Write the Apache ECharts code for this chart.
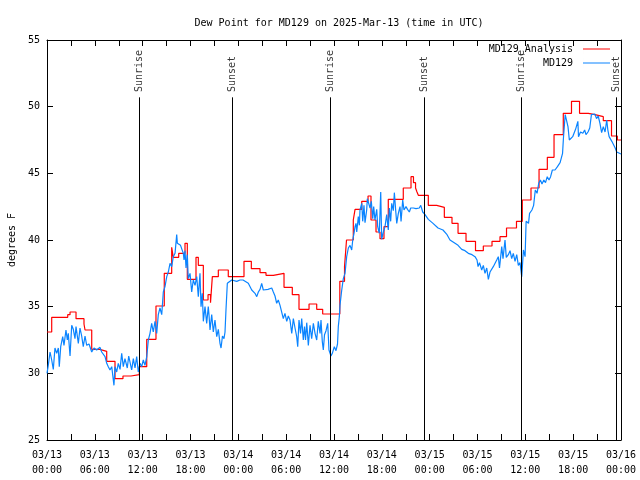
<!DOCTYPE html>
<html><head><meta charset="utf-8">
<script src="https://cdn.jsdelivr.net/npm/echarts@6/dist/echarts.min.js"></script>
<style>html,body{margin:0;padding:0;background:#fff}#c{width:640px;height:480px}</style>
</head><body><div id="c"></div>
<script>
const titleText = 'Dew Point for MD129 on 2025-Mar-13 (time in UTC)';
const yName = 'degrees F';
const xTickLabels = ['03/13\n00:00','03/13\n06:00','03/13\n12:00','03/13\n18:00','03/14\n00:00','03/14\n06:00','03/14\n12:00','03/14\n18:00','03/15\n00:00','03/15\n06:00','03/15\n12:00','03/15\n18:00','03/16\n00:00'];
const seriesNames = ['MD129_Analysis', 'MD129'];

// hours since 03/13 00:00 UTC
const redHours = [0,0.59,2.60,2.89,3.64,4.64,4.77,5.61,6.61,7.49,8.53,9.53,10.54,11.58,12.51,13.67,14.71,15.64,15.84,16.52,17.31,17.60,18.69,18.98,19.61,20.20,20.51,20.74,21.49,22.74,24.71,25.63,26.72,27.47,28.39,29.73,30.77,31.61,32.87,33.83,34.58,36.73,37.32,37.57,38.42,38.64,39.48,40.27,40.64,41.27,41.77,42.27,42.81,44.69,45.66,45.97,46.23,46.41,46.58,47.83,48.88,49.84,50.80,51.56,52.56,53.75,54.73,55.82,56.82,57.64,58.89,59.62,60.71,61.72,62.76,63.60,64.76,65.79,66.80,67.90,68.74,69.78,70.81,71.54,72];
const redValues = [33.1,34.2,34.4,34.6,34.1,33.7,33.25,31.8,31.65,30.9,29.6,29.8,29.9,30.5,32.55,35.05,37.5,39.45,38.7,39.0,39.75,37.05,38.7,38.1,35.5,35.9,35.3,37.25,37.75,37.25,38.4,37.85,37.55,37.35,37.5,36.45,35.9,34.8,35.2,34.8,34.45,36.9,38.0,40.0,41.5,42.3,42.9,43.3,41.5,40.6,40.1,41.0,43.05,43.9,44.75,44.3,43.9,43.6,43.35,42.6,42.45,41.7,41.25,40.5,39.9,39.2,39.55,39.9,40.25,40.9,41.4,43.0,43.9,45.3,46.2,47.9,49.5,50.4,49.5,49.4,49.25,48.95,47.8,47.5,47.5];

const blueHours = [0,0.16,0.38,0.59,0.79,1.00,1.22,1.42,1.54,1.72,1.97,2.13,2.38,2.55,2.67,2.89,3.10,3.30,3.51,3.64,3.93,4.14,4.35,4.55,4.77,4.98,5.27,5.61,5.90,6.23,6.65,6.86,7.28,7.49,7.69,7.90,8.12,8.40,8.53,8.74,8.94,9.16,9.37,9.57,9.78,10.07,10.25,10.41,10.62,10.83,11.04,11.25,11.45,11.67,11.88,12.08,12.29,12.51,12.71,12.92,13.13,13.33,13.55,13.76,13.96,14.17,14.39,14.59,14.80,15.02,15.22,15.43,15.64,15.84,16.06,16.27,16.35,16.60,16.75,16.90,17.10,17.19,17.31,17.44,17.60,17.72,17.94,18.15,18.35,18.57,18.78,18.98,19.19,19.32,19.48,19.61,19.82,20.03,20.23,20.32,20.45,20.66,20.86,21.07,21.29,21.49,21.70,21.83,22.01,22.20,22.33,22.45,22.62,22.87,23.17,23.80,24.21,24.59,24.84,25.25,25.46,25.68,25.88,26.09,26.31,26.51,26.72,26.93,27.13,27.35,27.72,28.19,28.39,28.60,28.81,29.01,29.23,29.44,29.64,29.85,30.07,30.27,30.48,30.70,30.90,31.11,31.32,31.45,31.61,31.80,31.95,32.15,32.30,32.43,32.58,32.78,32.99,33.20,33.41,33.62,33.83,34.03,34.25,34.37,34.53,34.66,34.81,35.00,35.21,35.37,35.62,35.79,36.04,36.25,36.44,36.54,36.67,36.75,36.97,37.17,37.38,37.59,37.80,38.01,38.22,38.35,38.51,38.64,38.76,38.85,39.05,39.18,39.26,39.48,39.60,39.76,39.89,40.10,40.18,40.43,40.52,40.68,40.86,40.98,41.14,41.36,41.48,41.68,41.86,41.98,42.19,42.40,42.61,42.81,42.94,43.11,43.24,43.44,43.57,43.74,43.87,44.07,44.28,44.41,44.62,44.78,45.03,45.22,45.45,45.62,45.95,46.29,46.70,46.88,47.13,47.42,47.83,48.42,49.05,49.67,50.18,50.55,51.18,51.56,52.02,52.43,52.85,53.31,53.69,53.94,54.07,54.25,54.53,54.73,54.94,55.16,55.36,55.57,55.78,55.98,56.20,56.41,56.61,56.76,57.04,57.20,57.45,57.61,57.87,58.08,58.29,58.49,58.71,58.92,59.12,59.33,59.55,59.76,59.97,60.10,60.40,60.53,60.83,61.04,61.25,61.47,61.68,61.89,62.09,62.32,62.53,62.75,62.97,63.17,63.39,63.72,64.03,64.36,64.67,64.79,65.00,65.22,65.35,65.52,65.73,65.94,66.16,66.30,66.59,66.67,66.92,67.22,67.44,67.61,67.86,68.08,68.29,68.50,68.72,68.93,69.14,69.36,69.57,69.78,70.00,70.21,70.35,70.51,70.85,71.04,71.27,71.46,71.70,72.00];
const blueValues = [30.0,30.6,31.6,31.0,30.3,31.9,31.5,31.9,30.5,32.0,32.75,32.1,33.25,32.5,33.0,31.3,33.6,33.3,32.6,33.5,32.25,33.4,32.8,32.0,32.8,32.1,32.2,31.6,31.9,31.75,31.95,31.6,31.25,30.75,30.5,30.25,30.5,29.1,30.5,30.1,30.75,30.3,31.5,30.5,31.1,30.4,31.3,31.25,30.25,31.1,30.4,31.25,30.1,30.75,30.5,31.0,30.6,31.25,32.5,33.0,33.75,33.1,33.9,33.0,34.4,34.9,34.4,36.1,36.5,37.25,37.6,38.25,38.0,38.75,39.0,40.4,39.75,39.9,39.6,39.75,39.0,38.5,39.2,37.9,38.9,37.1,37.5,36.1,37.0,36.6,37.25,35.75,37.5,35.0,36.0,33.9,35.0,33.75,35.0,34.4,33.25,34.4,33.1,34.0,32.75,33.3,32.25,31.9,32.8,32.6,33.1,34.75,36.75,36.9,37.0,36.9,37.0,37.0,37.05,36.75,36.6,36.25,36.4,36.0,35.75,36.1,36.3,36.75,36.25,36.35,36.3,36.4,36.1,35.8,35.25,35.5,35.1,35.0,34.1,34.5,33.9,34.3,34.0,33.0,34.1,33.4,32.75,32.0,34.0,33.0,34.1,32.5,33.5,32.5,33.8,32.1,33.6,32.6,33.75,33.0,32.5,33.9,33.0,34.0,32.4,31.75,32.9,33.2,33.75,31.75,31.3,31.5,32.0,31.7,32.2,33.5,34.25,35.1,36.25,37.1,37.5,38.75,39.4,39.6,39.25,40.0,40.5,41.0,41.25,40.6,41.75,41.1,42.25,42.75,41.4,42.6,41.3,42.25,43.1,43.25,42.4,42.9,41.6,42.5,41.5,42.3,41.0,40.5,43.6,40.05,40.6,41.0,41.9,40.75,42.4,41.4,42.75,42.2,43.55,42.2,41.25,42.0,42.5,41.4,43.0,42.25,42.5,42.3,42.1,42.4,42.4,42.35,42.4,42.6,42.1,41.9,41.55,41.25,40.9,40.75,40.4,40.0,39.75,39.6,39.3,39.2,39.0,38.9,38.75,38.5,38.0,38.3,37.75,38.1,37.5,37.9,37.05,37.6,37.5,38.0,37.9,38.5,38.75,37.9,39.5,38.6,40.0,38.7,38.9,39.2,38.6,39.0,38.4,38.9,38.1,38.3,37.25,39.25,38.75,41.4,41.25,42.0,42.25,42.6,43.75,43.5,44.25,44.5,44.2,44.5,44.3,44.75,44.5,44.75,45.25,45.25,45.5,45.8,46.5,47.75,49.4,49.4,48.5,47.5,47.4,47.75,47.6,48.3,48.9,47.75,48.1,48.0,48.25,47.9,48.1,48.4,49.4,49.25,49.45,49.1,49.3,48.75,48.05,48.5,48.1,49.0,48.25,47.75,47.4,47.25,46.9,46.6,46.5,46.45];

const sunHours = [11.58, 23.27, 35.59, 47.33, 59.46, 71.46];
const sunNames = ['Sunrise','Sunset','Sunrise','Sunset','Sunrise','Sunset'];

const FONT = 'DejaVu Sans Mono';
const chart = echarts.init(document.getElementById('c'), null, {renderer:'canvas'});
const redData = redHours.map((h,i)=>[h, redValues[i]]);
const blueData = blueHours.map((h,i)=>[h, blueValues[i]]);
const tickStyle = {show:true, inside:true, length:6, lineStyle:{color:'#000', width:1}};
const legendLine = 'path://M0,0L0.01,0L0.01,10L0,10Z M0,4.5L27,4.5L27,5.5L0,5.5Z';
chart.setOption({
  animation:false,
  backgroundColor:'#fff',
  textStyle:{fontFamily:FONT, fontSize:10, color:'#000'},
  title:{text:titleText, left:334, top:13, textAlign:'center',
    textStyle:{fontFamily:FONT, fontSize:10, fontWeight:'normal', color:'#000'}},
  legend:{data:seriesNames.map(n=>({name:n, icon:legendLine})), orient:'vertical', align:'right', right:25, top:39,
    itemWidth:27, itemHeight:10, itemGap:4,
    textStyle:{fontFamily:FONT, fontSize:10, color:'#000', padding:[0,5,0,0]}},
  grid:{left:47, right:19, top:40, bottom:40, outerBoundsMode:'none', containLabel:false},
  xAxis:[{type:'value', min:0, max:72, interval:3, position:'bottom',
      axisLine:{show:true, onZero:false, lineStyle:{color:'#000', width:1}},
      axisTick:tickStyle, splitLine:{show:false},
      axisLabel:{margin:8, lineHeight:15, fontFamily:FONT, fontSize:10, color:'#000',
        formatter:(v)=> (Math.round(v)%6===0 ? xTickLabels[Math.round(v)/6] : '')}},
    {type:'value', min:0, max:72, interval:3, position:'top',
      axisLine:{show:true, onZero:false, lineStyle:{color:'#000', width:1}},
      axisTick:tickStyle, splitLine:{show:false}, axisLabel:{show:false}}],
  yAxis:[{type:'value', min:25, max:55, interval:5, position:'left',
      name:yName, nameLocation:'middle', nameGap:30, nameRotate:90,
      nameTextStyle:{fontFamily:FONT, fontSize:10, color:'#000'},
      axisLine:{show:true, onZero:false, lineStyle:{color:'#000', width:1}},
      axisTick:tickStyle, splitLine:{show:false},
      axisLabel:{margin:7, fontFamily:FONT, fontSize:10, color:'#000'}},
    {type:'value', min:25, max:55, interval:5, position:'right',
      axisLine:{show:true, onZero:false, lineStyle:{color:'#000', width:1}},
      axisTick:tickStyle, splitLine:{show:false}, axisLabel:{show:false}}],
  series:[
    {name:seriesNames[0], type:'line', step:'end', data:redData, symbol:'none',
      lineStyle:{color:'#ff0000', width:1.2}, itemStyle:{color:'#ff0000'}, z:2},
    {name:seriesNames[1], type:'line', data:blueData, symbol:'none',
      lineStyle:{color:'#0a84ff', width:1.2}, itemStyle:{color:'#0a84ff'}, z:3},
    {name:'sun', type:'scatter', symbolSize:0, z:4, silent:true,
      data:sunHours.map((h,i)=>({value:[h, 51.1], name:sunNames[i]})),
      label:{show:true, position:'inside', rotate:90, align:'left', verticalAlign:'middle',
        formatter:(p)=>p.name, fontFamily:FONT, fontSize:10, color:'#000'},
      markLine:{silent:true, symbol:['none','none'], label:{show:false},
        lineStyle:{color:'#000', width:1, type:'solid'},
        data:sunHours.map(h=>[{coord:[h,25]},{coord:[h,50.7]}])}}
  ]
});
</script></body></html>
